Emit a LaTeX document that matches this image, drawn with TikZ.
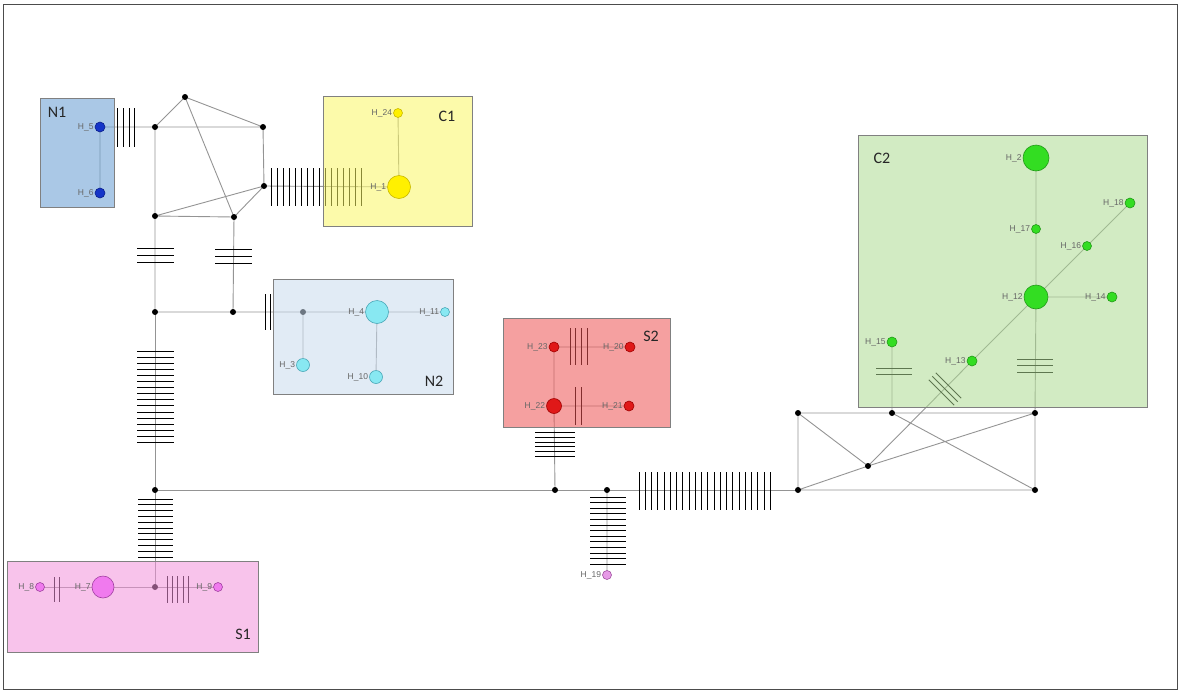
\documentclass[tikz,border=0pt]{standalone}
\usepackage{fontspec}
\setmainfont{Liberation Sans}
\newfontfamily\boxfont{Carlito}
\definecolor{edgec}{HTML}{949494}
\definecolor{bN1}{RGB}{100,155,209}
\definecolor{bC1}{RGB}{249,246,100}
\definecolor{bN2}{RGB}{200,218,237}
\definecolor{bS2}{RGB}{237,82,82}
\definecolor{bS1}{RGB}{242,146,219}
\definecolor{bC2}{RGB}{173,218,146}
\definecolor{fBlue}{HTML}{1535C8}\definecolor{dBlue}{HTML}{0A1F8A}
\definecolor{fYel}{HTML}{FFF000}\definecolor{dYel}{HTML}{C8B800}
\definecolor{fCyan}{HTML}{88E8F2}\definecolor{dCyan}{HTML}{4AA8B8}
\definecolor{fRed}{HTML}{E01818}\definecolor{dRed}{HTML}{A00000}
\definecolor{fPink}{HTML}{F07AEE}\definecolor{dPink}{HTML}{A040A0}
\definecolor{fViol}{HTML}{E69AE6}\definecolor{dViol}{HTML}{A050A0}
\definecolor{fGreen}{HTML}{33DD22}\definecolor{dGreen}{HTML}{229918}
\tikzset{
  edge/.style={draw=edgec, line width=0.9pt},
  tick/.style={draw=black, line width=0.9pt},
  jdot/.style={circle, fill=black, inner sep=0pt, minimum size=6pt},
  lbl/.style={font=\fontsize{8.5}{9}\selectfont, text=black!60, inner sep=1pt},
  hap/.style={circle, inner sep=0pt, line width=0.6pt, minimum size=#1},
  hBlue/.style={hap=#1, fill=fBlue, draw=dBlue},
  hYel/.style={hap=#1, fill=fYel, draw=dYel},
  hCyan/.style={hap=#1, fill=fCyan, draw=dCyan},
  hRed/.style={hap=#1, fill=fRed, draw=dRed},
  hPink/.style={hap=#1, fill=fPink, draw=dPink},
  hViol/.style={hap=#1, fill=fViol, draw=dViol},
  hGreen/.style={hap=#1, fill=fGreen, draw=dGreen},
  grpbox/.style={draw=black!50, line width=0.8pt, fill opacity=0.55},
  grplbl/.style={font=\boxfont\fontsize{16}{18}\selectfont, text=black!85, inner sep=0pt}
}
\begin{document}
\begin{tikzpicture}[x=1pt,y=-1pt]
\useasboundingbox (0,0) rectangle (1180,691);
\draw[black!70, line width=0.8pt] (3.5,4) rectangle (1177,689);
% junction points
\coordinate (a) at (155,127); \coordinate (b) at (185,97); \coordinate (c) at (263,127);
\coordinate (d) at (264,186); \coordinate (e) at (155,216); \coordinate (f) at (234,217);
\coordinate (g) at (155,312); \coordinate (h) at (233,312); \coordinate (i) at (303,312);
\coordinate (j) at (155,490); \coordinate (n) at (155,587);
\coordinate (k) at (555,490); \coordinate (l) at (607,490); \coordinate (m) at (798,490);
\coordinate (p) at (798,413); \coordinate (r) at (892,413); \coordinate (s) at (1035,413);
\coordinate (q) at (868,466); \coordinate (t) at (1035,490);
% haplotype positions
\coordinate (h5) at (100,127); \coordinate (h6) at (100,193);
\coordinate (h24) at (398,113); \coordinate (h1) at (399,187);
\coordinate (h4) at (377,312); \coordinate (h11) at (445,312);
\coordinate (h3) at (303,365); \coordinate (h10) at (376,377);
\coordinate (h23) at (554,347); \coordinate (h20) at (630,347);
\coordinate (h22) at (554,406); \coordinate (h21) at (629,406);
\coordinate (h8) at (40,587); \coordinate (h7) at (103,587); \coordinate (h9) at (218,587);
\coordinate (h19) at (607,575);
\coordinate (h2) at (1036,158); \coordinate (h17) at (1036,229); \coordinate (h12) at (1036,297);
\coordinate (h14) at (1112,297); \coordinate (h16) at (1087,246); \coordinate (h18) at (1130,203);
\coordinate (h13) at (972,361); \coordinate (h15) at (892,342);
% edges
\draw[edge] (a)--(b) (b)--(c) (a)--(c) (c)--(d) (b)--(f) (d)--(e) (e)--(f) (f)--(d) (a)--(e);
\draw[edge] (h5)--(a) (h5)--(h6) (d)--(h1) (h24)--(h1);
\draw[edge] (e)--(g) (f)--(h) (g)--(h) (h)--(i) (i)--(h4) (h4)--(h11) (i)--(h3) (h4)--(h10);
\draw[edge] (g)--(j) (j)--(k) (k)--(l) (l)--(m) (j)--(n);
\draw[edge] (h8)--(h7) (h7)--(n) (n)--(h9);
\draw[edge] (h23)--(h20) (h22)--(h21) (h23)--(h22) (h22)--(k) (l)--(h19);
\draw[edge] (m)--(p) (p)--(r) (r)--(s) (m)--(t) (s)--(t) (p)--(q) (m)--(q) (q)--(s) (r)--(t);
\draw[edge] (q)--(h13) (h13)--(h12) (r)--(h15) (s)--(h12) (h12)--(h14) (h12)--(h16) (h16)--(h18) (h2)--(h17) (h17)--(h12);
% mutation ticks
\foreach \x in {117,123,129,134} \draw[tick] (\x,108)--(\x,147);
\foreach \k in {0,...,15} \draw[tick] (271+6*\k,168)--(271+6*\k,206);
\foreach \y in {248,255,262} \draw[tick] (137,\y)--(174,\y);
\foreach \y in {249,256,263} \draw[tick] (215,\y)--(252,\y);
\foreach \x in {265,270} \draw[tick] (\x,294)--(\x,330);
\foreach \k in {0,...,15} \draw[tick] (137,351+6.1*\k)--(174,351+6.1*\k);
\foreach \k in {0,...,10} \draw[tick] (138,499+5.8*\k)--(173,499+5.8*\k);
\foreach \x in {167,172,177,183,188} \draw[tick] (\x,576)--(\x,603);
\foreach \x in {54,59} \draw[tick] (\x,577)--(\x,602);
\foreach \x in {570,575,581,587} \draw[tick] (\x,328)--(\x,365);
\foreach \x in {575,581} \draw[tick] (\x,387)--(\x,425);
\foreach \y in {432,437,442,446,451,456} \draw[tick] (535,\y)--(575,\y);
\foreach \k in {0,...,12} \draw[tick] (590,497+5.6*\k)--(626,497+5.6*\k);
\foreach \k in {0,...,21} \draw[tick] (639+6.25*\k,472)--(639+6.25*\k,510);
\foreach \y in {368,374} \draw[tick] (876,\y)--(912,\y);
\foreach \y in {359,365,372} \draw[tick] (1017,\y)--(1053,\y);
\foreach \cx/\cy in {941.5/392.5, 945/389, 948.5/385.5} \draw[tick] (\cx-12.7,\cy-12.7)--(\cx+12.7,\cy+12.7);
% junction dots
\foreach \v in {a,b,c,d,e,f,g,h,i,j,n,k,l,m,p,r,s,q,t} \node[jdot] (\v dot) at (\v) {};
% group boxes
\draw[grpbox, fill=bN1] (40,98) rectangle (114,207);
\draw[grpbox, fill=bC1] (323,96) rectangle (472,226);
\draw[grpbox, fill=bN2] (273,279) rectangle (453,394);
\draw[grpbox, fill=bS2] (503,318) rectangle (670,427);
\draw[grpbox, fill=bS1] (7,561) rectangle (258,652);
\draw[grpbox, fill=bC2] (858,135) rectangle (1147,407);
\node[grplbl] (lN1) at (57,112) {N1};
\node[grplbl] (lC1) at (447,116) {C1};
\node[grplbl] (lN2) at (434,381) {N2};
\node[grplbl] (lS2) at (651,336) {S2};
\node[grplbl] (lS1) at (243,634) {S1};
\node[grplbl] (lC2) at (882,158) {C2};
% haplotype nodes
\node[hBlue=10pt, label={[lbl]left:H\_5}] (H5) at (h5) {};
\node[hBlue=10pt, label={[lbl]left:H\_6}] (H6) at (h6) {};
\node[hYel=9pt, label={[lbl]left:H\_24}] (H24) at (h24) {};
\node[hYel=23pt, label={[lbl]left:H\_1}] (H1) at (h1) {};
\node[hCyan=23pt, label={[lbl]left:H\_4}] (H4) at (h4) {};
\node[hCyan=9pt, label={[lbl]left:H\_11}] (H11) at (h11) {};
\node[hCyan=13pt, label={[lbl]left:H\_3}] (H3) at (h3) {};
\node[hCyan=13pt, label={[lbl]left:H\_10}] (H10) at (h10) {};
\node[hRed=10pt, label={[lbl]left:H\_23}] (H23) at (h23) {};
\node[hRed=10pt, label={[lbl]left:H\_20}] (H20) at (h20) {};
\node[hRed=15pt, label={[lbl]left:H\_22}] (H22) at (h22) {};
\node[hRed=10pt, label={[lbl]left:H\_21}] (H21) at (h21) {};
\node[hPink=9pt, label={[lbl]left:H\_8}] (H8) at (h8) {};
\node[hPink=22pt, label={[lbl]left:H\_7}] (H7) at (h7) {};
\node[hPink=9pt, label={[lbl]left:H\_9}] (H9) at (h9) {};
\node[hViol=9pt, label={[lbl]left:H\_19}] (H19) at (h19) {};
\node[hGreen=26pt, label={[lbl]left:H\_2}] (H2) at (h2) {};
\node[hGreen=9pt, label={[lbl]left:H\_17}] (H17) at (h17) {};
\node[hGreen=24pt, label={[lbl]left:H\_12}] (H12) at (h12) {};
\node[hGreen=10pt, label={[lbl]left:H\_14}] (H14) at (h14) {};
\node[hGreen=9pt, label={[lbl]left:H\_16}] (H16) at (h16) {};
\node[hGreen=10pt, label={[lbl]left:H\_18}] (H18) at (h18) {};
\node[hGreen=10pt, label={[lbl]left:H\_13}] (H13) at (h13) {};
\node[hGreen=10pt, label={[lbl]left:H\_15}] (H15) at (h15) {};
\end{tikzpicture}
\end{document}
